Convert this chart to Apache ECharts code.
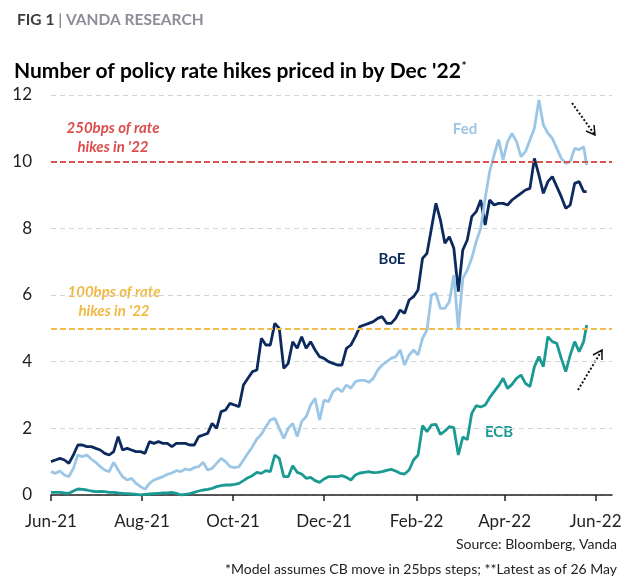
<!DOCTYPE html>
<html>
<head>
<meta charset="utf-8">
<script src="https://cdn.jsdelivr.net/npm/echarts@6/dist/echarts.min.js"></script>
<style>html,body{margin:0;padding:0;background:#fff;}#c{width:630px;height:580px;}</style>
</head>
<body>
<div id="c"></div>
<script>
const dates = [
'2021-06-01','2021-06-04','2021-06-07','2021-06-10','2021-06-13','2021-06-16','2021-06-19','2021-06-22','2021-06-25','2021-06-28',
'2021-07-01','2021-07-04','2021-07-07','2021-07-10','2021-07-13','2021-07-16','2021-07-19','2021-07-22','2021-07-25','2021-07-28','2021-07-31',
'2021-08-03','2021-08-06','2021-08-09','2021-08-12','2021-08-15','2021-08-18','2021-08-21','2021-08-24','2021-08-27','2021-08-30',
'2021-09-02','2021-09-05','2021-09-08','2021-09-11','2021-09-14','2021-09-17','2021-09-20','2021-09-23','2021-09-26','2021-09-29',
'2021-10-02','2021-10-05','2021-10-08','2021-10-11','2021-10-14','2021-10-17','2021-10-20','2021-10-23','2021-10-26','2021-10-29',
'2021-11-01','2021-11-04','2021-11-07','2021-11-10','2021-11-13','2021-11-16','2021-11-19','2021-11-22','2021-11-25','2021-11-28',
'2021-12-01','2021-12-04','2021-12-07','2021-12-10','2021-12-13','2021-12-16','2021-12-19','2021-12-22','2021-12-25','2021-12-28','2021-12-31',
'2022-01-03','2022-01-06','2022-01-09','2022-01-12','2022-01-15','2022-01-18','2022-01-21','2022-01-24','2022-01-27','2022-01-30',
'2022-02-02','2022-02-05','2022-02-08','2022-02-11','2022-02-14','2022-02-17','2022-02-20','2022-02-23','2022-02-26',
'2022-03-01','2022-03-04','2022-03-07','2022-03-10','2022-03-13','2022-03-16','2022-03-19','2022-03-22','2022-03-25','2022-03-28','2022-03-31',
'2022-04-03','2022-04-06','2022-04-09','2022-04-12','2022-04-15','2022-04-18','2022-04-21','2022-04-24','2022-04-27','2022-04-30',
'2022-05-03','2022-05-06','2022-05-09','2022-05-12','2022-05-15','2022-05-18','2022-05-21','2022-05-24','2022-05-26'
];
const boe = [
1.0,1.05,1.1,1.05,0.95,1.2,1.5,1.5,1.45,1.45,
1.4,1.35,1.25,1.2,1.3,1.75,1.35,1.4,1.35,1.3,1.3,
1.25,1.6,1.55,1.6,1.55,1.55,1.45,1.55,1.55,1.55,
1.5,1.5,1.75,1.8,1.85,2.15,2.0,2.5,2.55,2.75,
2.7,2.65,3.3,3.5,3.7,3.75,4.7,4.5,4.5,5.15,
5.0,3.8,3.95,4.6,4.4,4.75,4.4,4.6,4.35,4.15,
4.1,4.0,3.95,3.9,3.9,4.4,4.5,4.75,5.05,5.1,5.15,
5.2,5.3,5.35,5.15,5.15,5.3,5.55,5.45,5.85,5.95,
6.15,7.1,7.25,8.0,8.75,8.25,7.55,7.75,7.4,
6.1,7.35,7.65,8.35,8.5,8.85,8.1,8.85,8.7,8.75,8.75,
8.7,8.85,8.95,9.05,9.15,9.2,10.1,9.6,9.05,9.4,
9.55,9.25,8.95,8.6,8.7,9.35,9.4,9.1,9.1
];
const fed = [
0.7,0.65,0.72,0.6,0.55,0.8,1.2,1.15,1.2,1.08,
0.98,0.85,0.75,0.7,0.98,0.75,0.55,0.45,0.5,0.35,0.25,
0.17,0.35,0.45,0.5,0.55,0.62,0.66,0.73,0.7,0.78,
0.75,0.82,0.85,0.98,0.75,0.8,0.95,1.1,1.0,0.85,
0.82,0.85,1.05,1.25,1.45,1.68,1.82,2.05,2.25,2.3,
2.0,1.7,2.0,2.15,1.75,2.2,2.35,2.7,2.9,2.25,
2.85,2.8,3.1,3.2,3.1,3.3,3.2,3.4,3.44,3.44,3.38,
3.5,3.75,3.9,4.0,4.1,4.15,4.35,3.9,4.2,4.35,
4.2,4.7,4.95,6.0,6.05,5.6,5.6,5.8,6.6,
5.0,6.5,6.75,7.1,7.6,8.0,8.9,9.7,10.2,10.66,10.05,
10.6,10.85,10.6,10.15,10.3,10.65,11.0,11.85,11.1,10.86,
10.7,10.4,10.1,9.95,10.0,10.4,10.36,10.45,9.9
];
const ecb = [
0.08,0.08,0.08,0.06,0.05,0.12,0.18,0.17,0.15,0.12,
0.1,0.11,0.1,0.08,0.08,0.06,0.05,0.04,0.03,0.02,0.0,
0.02,0.03,0.04,0.05,0.06,0.06,0.08,0.05,0.0,0.02,
0.04,0.08,0.12,0.15,0.17,0.2,0.25,0.28,0.3,0.3,
0.32,0.35,0.43,0.52,0.58,0.68,0.65,0.73,0.7,1.2,
1.1,0.55,0.55,0.88,0.68,0.63,0.5,0.53,0.43,0.38,
0.48,0.55,0.55,0.55,0.58,0.53,0.45,0.6,0.66,0.68,0.7,
0.67,0.68,0.7,0.74,0.77,0.72,0.65,0.63,0.75,1.05,
1.2,2.08,1.9,2.1,2.12,1.82,1.92,2.05,2.02,
1.2,1.74,1.66,2.45,2.68,2.64,2.7,2.92,3.1,3.28,3.5,
3.2,3.32,3.5,3.6,3.35,3.25,3.85,4.15,3.85,4.75,
4.6,4.55,4.1,3.7,4.2,4.6,4.3,4.6,5.1
];
const tickDates = ['2021-06-01','2021-08-01','2021-10-01','2021-12-01','2022-02-01','2022-04-01','2022-06-01'];
const tickLabels = ['Jun-21','Aug-21','Oct-21','Dec-21','Feb-22','Apr-22','Jun-22'];
const axisStart = '2021-06-01';
const axisEnd = '2022-06-12';
const refLines = [10, 5];

function ts(s){ const p = s.split('-').map(Number); return Date.UTC(p[0], p[1]-1, p[2]); }
const tickTs = tickDates.map(ts);
function pairs(vals){ return dates.map((d,i)=>[ts(d), vals[i]]); }

const FONT = 'Lato';
const chart = echarts.init(document.getElementById('c'), null, {renderer:'canvas'});
chart.setOption({
  animation: false,
  backgroundColor: '#fff',
  title: [
    { left: 12, top: 7, text: '{a|FIG 1 }{b|| VANDA RESEARCH}',
      textStyle: { rich: {
        a: {fontFamily: FONT, fontWeight: 'bold', fontSize: 15.5, color: '#3d3d3d'},
        b: {fontFamily: FONT, fontWeight: 'bold', fontSize: 15.5, color: '#8d8d99'} } } },
    { left: 9, top: 56, text: "{t|Number of policy rate hikes priced in by Dec '22}{s|*}",
      textStyle: { rich: {
        t: {fontFamily: FONT, fontWeight: 'bold', fontSize: 21, color: '#000'},
        s: {fontFamily: FONT, fontWeight: 'bold', fontSize: 11, color: '#000', verticalAlign: 'top', padding:[0,0,10,1]} } } }
  ],
  grid: { left: 51, right: 18, top: 95, bottom: 85 },
  xAxis: {
    type: 'value', min: ts(axisStart), max: ts(axisEnd), scale: true,
    axisLine: { show: true, lineStyle: { color: '#222', width: 1.5 } },
    axisTick: { show: true, customValues: tickTs, length: 6, lineStyle: { color: '#222', width: 1.5 } },
    axisLabel: { customValues: tickTs, margin: 18, fontFamily: FONT, fontSize: 17, color: '#222',
      formatter: function(v){ const i = tickTs.indexOf(v); return i >= 0 ? tickLabels[i] : ''; } },
    splitLine: { show: false }
  },
  yAxis: {
    type: 'value', min: 0, max: 12, interval: 2,
    axisLine: { show: false }, axisTick: { show: false },
    axisLabel: { fontFamily: FONT, fontSize: 17, color: '#222', margin: 19 },
    splitLine: { lineStyle: { color: '#d4d4d4', width: 1, type: [5, 4] } }
  },
  series: [
    { name: 'BoE', type: 'line', data: pairs(boe), showSymbol: false, lineStyle: { color: '#0c2a5e', width: 2.8 }, itemStyle:{color:'#0c2a5e'},
      markLine: { silent: true, symbol: 'none', label: { show: false },
        data: [ { yAxis: refLines[0], lineStyle: { color: '#d9534f', width: 2, type: [6, 3] } },
                { yAxis: refLines[1], lineStyle: { color: '#f0bd4a', width: 2, type: [6, 3] } } ] } },
    { name: 'Fed', type: 'line', data: pairs(fed), showSymbol: false, lineStyle: { color: '#9cc6e6', width: 2.8 }, itemStyle:{color:'#9cc6e6'} },
    { name: 'ECB', type: 'line', data: pairs(ecb), showSymbol: false, lineStyle: { color: '#1a9a93', width: 2.8 }, itemStyle:{color:'#1a9a93'} }
  ],
  graphic: [
    { type: 'text', x: 113, y: 138, style: { text: "250bps of rate\nhikes in '22", fill: '#dc4c4c', font: 'italic bold 15px ' + FONT, align: 'center', verticalAlign: 'middle', lineHeight: 19 } },
    { type: 'text', x: 114, y: 302, style: { text: "100bps of rate\nhikes in '22", fill: '#f0b942', font: 'italic bold 15px ' + FONT, align: 'center', verticalAlign: 'middle', lineHeight: 19, backgroundColor: '#fff', padding: [0, 4] } },
    { type: 'text', x: 465, y: 129, style: { text: 'Fed', fill: '#9cc6e6', font: 'bold 15px ' + FONT, align: 'center', verticalAlign: 'middle' } },
    { type: 'text', x: 392, y: 259, style: { text: 'BoE', fill: '#0c2a5e', font: 'bold 15px ' + FONT, align: 'center', verticalAlign: 'middle' } },
    { type: 'text', x: 499, y: 432, style: { text: 'ECB', fill: '#1a9a93', font: 'bold 15px ' + FONT, align: 'center', verticalAlign: 'middle' } },
    { type: 'line', shape: { x1: 572, y1: 103, x2: 595, y2: 135 }, style: { stroke: '#111', lineWidth: 2, lineDash: [2, 2] } },
    { type: 'polyline', shape: { points: [[594, 125], [595, 135], [586, 131]] }, style: { stroke: '#111', lineWidth: 1.5, fill: null } },
    { type: 'line', shape: { x1: 578, y1: 390, x2: 602, y2: 350 }, style: { stroke: '#111', lineWidth: 2, lineDash: [2, 2] } },
    { type: 'polyline', shape: { points: [[593, 355], [602, 350], [602, 360]] }, style: { stroke: '#111', lineWidth: 1.5, fill: null } },
    { type: 'text', x: 617, y: 544, style: { text: 'Source: Bloomberg, Vanda', fill: '#222', font: '14px ' + FONT, align: 'right', verticalAlign: 'middle' } },
    { type: 'text', x: 617, y: 569, style: { text: '*Model assumes CB move in 25bps steps; **Latest as of 26 May', fill: '#222', font: '14px ' + FONT, align: 'right', verticalAlign: 'middle' } }
  ]
});
</script>
</body>
</html>
